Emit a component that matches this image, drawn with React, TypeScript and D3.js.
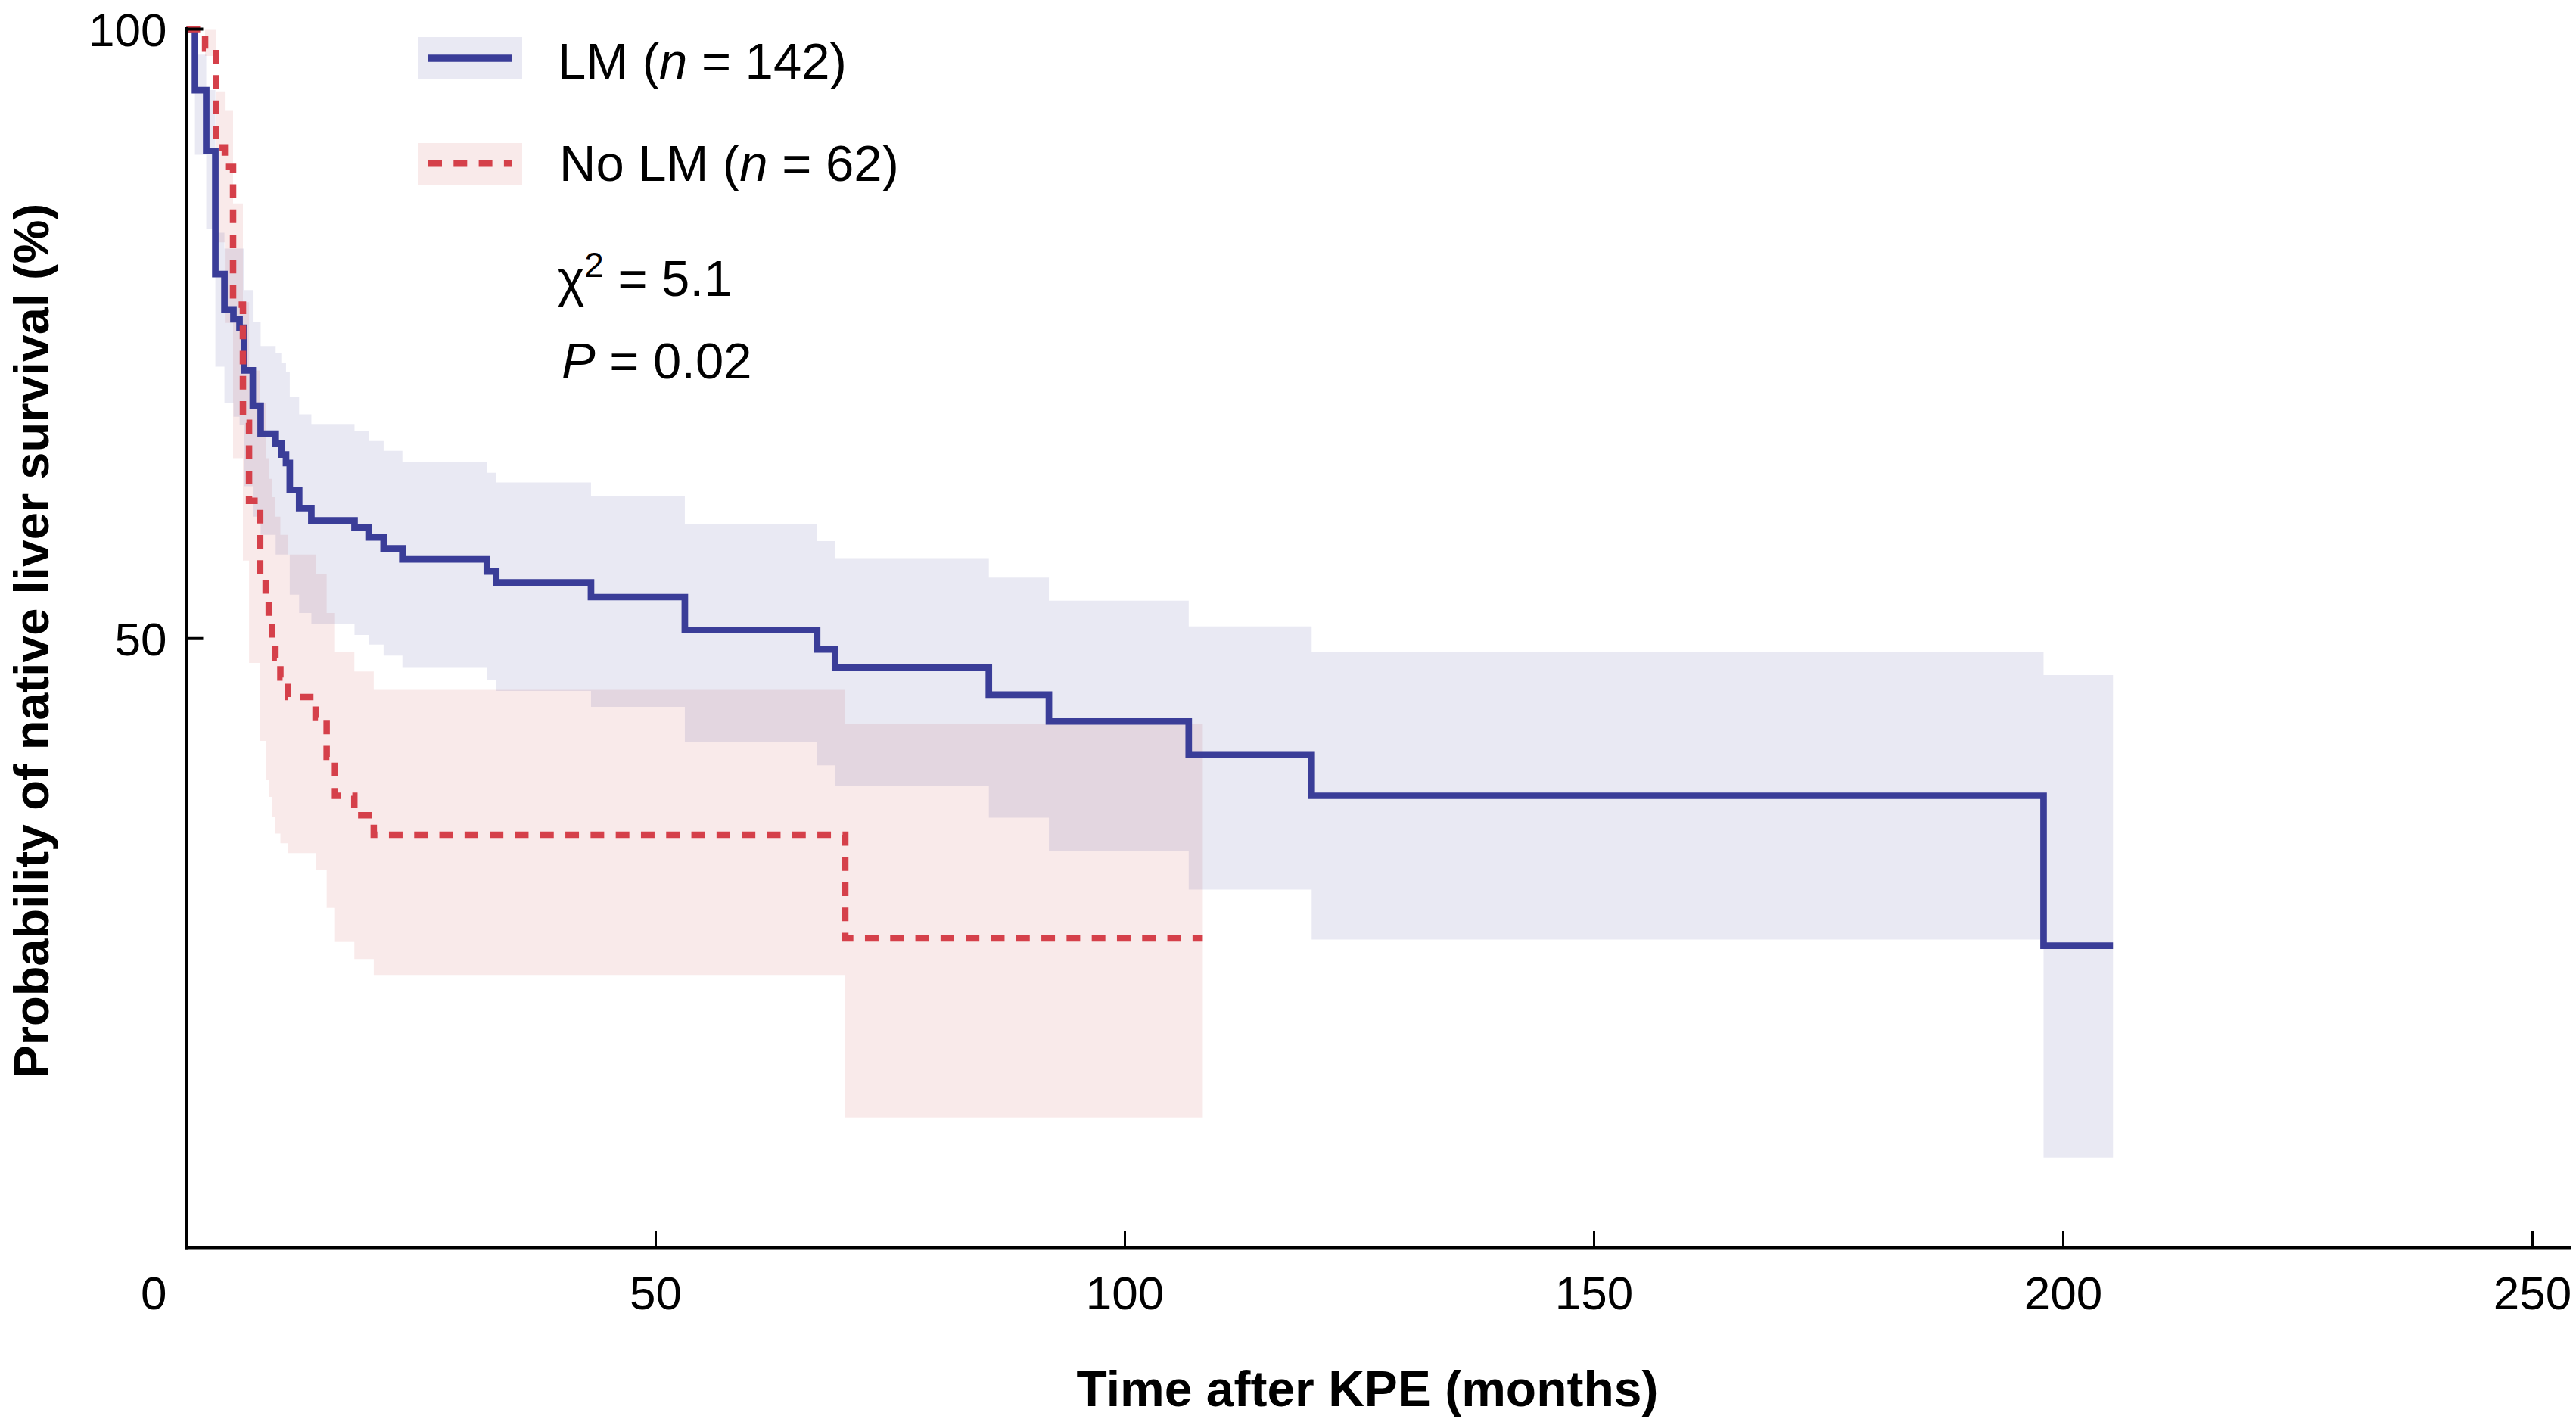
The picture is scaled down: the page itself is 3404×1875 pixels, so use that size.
import * as d3 from "d3";

const W = 3404;
const H = 1875;

// LM (n = 142): step times (months), survival %, CI upper/lower
const lmTime = [0, 0.9, 2.1, 3.07, 4.04, 5.0, 5.65, 6.13, 7.06, 7.9, 9.5, 10.1, 10.6, 11.0, 12.0, 13.3, 17.9, 19.4, 21.0, 23.0, 32.0, 33.0, 43.1, 53.1, 67.2, 69.1, 85.5, 91.9, 106.8, 119.9, 197.9];
const lmSurv = [100, 95.0, 90.0, 79.9, 77.0, 76.2, 75.5, 72.0, 69.1, 66.8, 66.0, 65.1, 64.4, 62.2, 60.7, 59.7, 59.1, 58.3, 57.4, 56.5, 55.5, 54.6, 53.4, 50.7, 49.1, 47.6, 45.4, 43.2, 40.5, 37.1, 24.8];
const lmUpper = [100, 97.9, 95.0, 83.3, 82.0, 82.0, 82.0, 78.6, 76.0, 74.0, 73.4, 72.6, 71.9, 69.8, 68.4, 67.6, 67.0, 66.2, 65.4, 64.5, 63.6, 62.8, 61.7, 59.4, 58.0, 56.6, 55.0, 53.1, 51.0, 48.9, 47.0];
const lmLower = [100, 89.7, 83.6, 72.3, 69.3, 68.2, 67.5, 62.5, 60.0, 58.5, 56.9, 56.9, 56.9, 53.6, 52.1, 51.2, 50.3, 49.5, 48.6, 47.6, 46.6, 45.7, 44.4, 41.5, 39.6, 37.9, 35.3, 32.6, 29.4, 25.3, 7.4];
const lmEnd = 205.3;

// No LM (n = 62)
const noTime = [0, 1.98, 3.15, 4.08, 4.96, 6.01, 6.66, 7.85, 8.43, 8.76, 9.13, 9.47, 10.0, 10.8, 13.75, 14.93, 15.82, 17.88, 19.95, 70.2];
const noSurv = [100, 98.4, 90.3, 88.7, 77.4, 67.7, 61.3, 54.8, 53.2, 51.6, 50.0, 48.4, 46.8, 45.2, 43.5, 40.3, 37.1, 35.5, 33.9, 25.4];
const noUpper = [100, 100, 94.9, 93.3, 85.7, 77.6, 72.0, 69.3, 64.8, 63.1, 61.6, 60.0, 58.5, 56.9, 55.3, 52.1, 48.9, 47.3, 45.8, 43.0];
const noLower = [100, 97.8, 82.5, 75.9, 64.8, 56.4, 48.0, 41.6, 38.4, 37.0, 35.4, 34.0, 33.2, 32.4, 31.0, 27.9, 25.1, 23.7, 22.4, 10.7];
const noEnd = 108.3;

const xTicks = [0, 50, 100, 150, 200, 250];
const yTicks = [50, 100];

const BLUE = "#3A3D98";
const RED = "#D5404A";
const BAND_RED = "rgb(203,72,72)";
const FONT = "'Liberation Sans', Arial, Helvetica, sans-serif";

type P = { t: number; s: number; lo: number; hi: number };

function steps(time: number[], surv: number[], lo: number[], hi: number[], end: number): P[] {
  let pts = time.map((t, i) => ({ t, s: surv[i], lo: lo[i], hi: hi[i] }));
  let last = pts[pts.length - 1];
  pts.push({ ...last, t: end });
  return pts;
}

export default function App() {
  let x = d3.scaleLinear().domain([0, 250]).range([246.5, 3346.5]);
  let y = d3.scaleLinear().domain([0, 100]).range([1649, 38.5]);

  let lm = steps(lmTime, lmSurv, lmLower, lmUpper, lmEnd);
  let no = steps(noTime, noSurv, noLower, noUpper, noEnd);

  let line = d3
    .line<P>()
    .x((d) => x(d.t))
    .y((d) => y(d.s))
    .curve(d3.curveStepAfter);
  let band = d3
    .area<P>()
    .x((d) => x(d.t))
    .y0((d) => y(d.lo))
    .y1((d) => y(d.hi))
    .curve(d3.curveStepAfter);

  return (
    <svg
      width={W}
      height={H}
      style={{ position: "absolute", left: 0, top: 0, background: "#fff" }}
      fontFamily={FONT}
    >
      {/* confidence bands */}
      <path d={band(no) || ""} fill={BAND_RED} fillOpacity={0.115} />
      <path d={band(lm) || ""} fill={BLUE} fillOpacity={0.115} />

      {/* survival curves */}
      <path d={line(lm) || ""} fill="none" stroke={BLUE} strokeWidth={8.7} />
      <path
        d={line(no) || ""}
        fill="none"
        stroke={RED}
        strokeWidth={8.5}
        strokeDasharray="18 15.3"
      />

      {/* axes */}
      <line x1={x(0)} x2={x(0)} y1={36} y2={y(0) + 2.5} stroke="#000" strokeWidth={4.6} />
      <line x1={x(0) - 2.3} x2={3398} y1={y(0)} y2={y(0)} stroke="#000" strokeWidth={4.8} />
      {yTicks.map((t) => (
        <g key={"y" + t}>
          <line x1={x(0)} x2={x(0) + 22} y1={y(t)} y2={y(t)} stroke="#000" strokeWidth={4} />
          <text x={x(0) - 26} y={y(t)} dy="0.36em" textAnchor="end" fontSize={62}>
            {t}
          </text>
        </g>
      ))}
      {xTicks.map((t) => (
        <g key={"x" + t}>
          {t > 0 && (
            <line x1={x(t)} x2={x(t)} y1={y(0)} y2={y(0) - 22} stroke="#000" strokeWidth={3} />
          )}
          <text
            x={t === 0 ? x(0) - 26 : x(t)}
            y={1730}
            textAnchor={t === 0 ? "end" : "middle"}
            fontSize={62}
          >
            {t}
          </text>
        </g>
      ))}

      <text x={1807} y={1858} textAnchor="middle" fontSize={66} fontWeight="bold">
        Time after KPE (months)
      </text>
      <text
        transform={`translate(64,${y(50) + 3}) rotate(-90)`}
        textAnchor="middle"
        fontSize={65}
        fontWeight="bold"
      >
        Probability of native liver survival (%)
      </text>

      {/* legend */}
      <rect x={552} y={49} width={138} height={56} fill={BLUE} fillOpacity={0.115} />
      <line x1={566} x2={677} y1={77} y2={77} stroke={BLUE} strokeWidth={9.5} />
      <text x={737} y={104} fontSize={67}>
        LM (<tspan fontStyle="italic">n</tspan> = 142)
      </text>
      <rect x={552} y={189} width={138} height={55} fill={BAND_RED} fillOpacity={0.115} />
      <line
        x1={566}
        x2={677}
        y1={216}
        y2={216}
        stroke={RED}
        strokeWidth={8.8}
        strokeDasharray="18 15.3"
      />
      <text x={739} y={239} fontSize={67}>
        No LM (<tspan fontStyle="italic">n</tspan> = 62)
      </text>

      <text x={737} y={391} fontSize={67}>
        χ
        <tspan fontSize={46} dy={-25}>
          2
        </tspan>
        <tspan dy={25}> = 5.1</tspan>
      </text>
      <text x={742} y={500} fontSize={67}>
        <tspan fontStyle="italic">P</tspan> = 0.02
      </text>
    </svg>
  );
}
